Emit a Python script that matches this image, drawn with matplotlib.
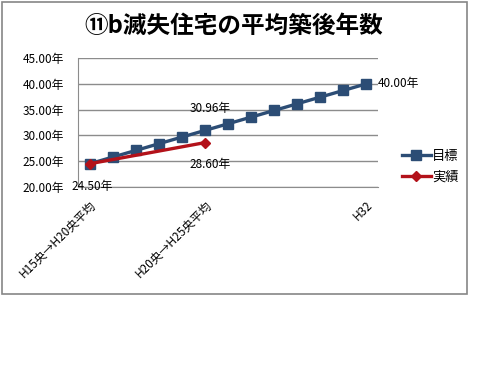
import matplotlib
matplotlib.use("Agg")
import matplotlib.pyplot as plt
import numpy as np

plt.rcParams["font.family"] = ["Noto Sans CJK JP", "DejaVu Sans"]

TITLE = "⑪b滅失住宅の平均築後年数"
categories = ["H15央→H20央平均", "", "", "", "", "H20央→H25央平均",
              "", "", "", "", "", "", "H32"]
target = [24.50, 25.79, 27.08, 28.38, 29.67, 30.96, 32.25,
          33.54, 34.83, 36.13, 37.42, 38.71, 40.00]
actual_idx = [0, 5]
actual = [24.50, 28.60]

BLUE = "#2C4D75"
RED = "#B3121A"
GRID = "#8C8C8C"

fig = plt.figure(figsize=(5, 3.75), dpi=100)

# outer chart border
border = plt.Rectangle((2 / 500, 1 - 294 / 375), 465 / 500, 292 / 375,
                       transform=fig.transFigure, fill=False,
                       edgecolor="#868686", linewidth=1.2)
fig.add_artist(border)

fig.text(234 / 500, 1 - 26 / 375, TITLE, ha="center", va="center",
         fontsize=17, fontweight="bold")

ax = fig.add_axes([78 / 500, 1 - 187 / 375, 300 / 500, 129 / 375])
x = np.arange(len(categories))

ax.plot(x, target, color=BLUE, linewidth=2.4, marker="s", markersize=6.5,
        label="目標", zorder=3)
ax.plot(actual_idx, actual, color=RED, linewidth=2.4, marker="D",
        markersize=5, label="実績", zorder=4)

ax.set_xlim(-0.5, len(categories) - 0.5)
ax.set_ylim(20, 45)
ax.set_yticks([20, 25, 30, 35, 40, 45])
ax.set_yticklabels([f"{v:.2f}年" for v in [20, 25, 30, 35, 40, 45]],
                   fontsize=8.5)
ax.set_xticks(x)
ax.set_xticklabels(categories, rotation=45, ha="right", va="top",
                   rotation_mode="anchor", fontsize=8.5)
ax.tick_params(axis="both", length=0)
ax.tick_params(axis="y", pad=10)
ax.tick_params(axis="x", pad=8)

ax.grid(axis="y", color=GRID, linewidth=1)
ax.set_axisbelow(True)
for side in ["top", "right"]:
    ax.spines[side].set_visible(False)
for side in ["left", "bottom"]:
    ax.spines[side].set_color(GRID)

# data labels
ax.annotate(f"{target[0]:.2f}年", (0, target[0]), xytext=(2, -16),
            textcoords="offset points", ha="center", va="center", fontsize=8.5)
ax.annotate(f"{target[5]:.2f}年", (5, target[5]), xytext=(4, 16),
            textcoords="offset points", ha="center", va="center", fontsize=8.5)
ax.annotate(f"{actual[1]:.2f}年", (actual_idx[1], actual[1]), xytext=(4, -16),
            textcoords="offset points", ha="center", va="center", fontsize=8.5)
ax.annotate(f"{target[-1]:.2f}年", (12, target[-1]), xytext=(8, 0),
            textcoords="offset points", ha="left", va="center", fontsize=8.5)

ax.legend(loc="center left", bbox_to_anchor=(390 / 500, 1 - 167 / 375),
          bbox_transform=fig.transFigure, frameon=False, fontsize=9.5,
          handlelength=2.2, handletextpad=0.1, labelspacing=0.6)

fig.savefig("out.png", dpi=100)
